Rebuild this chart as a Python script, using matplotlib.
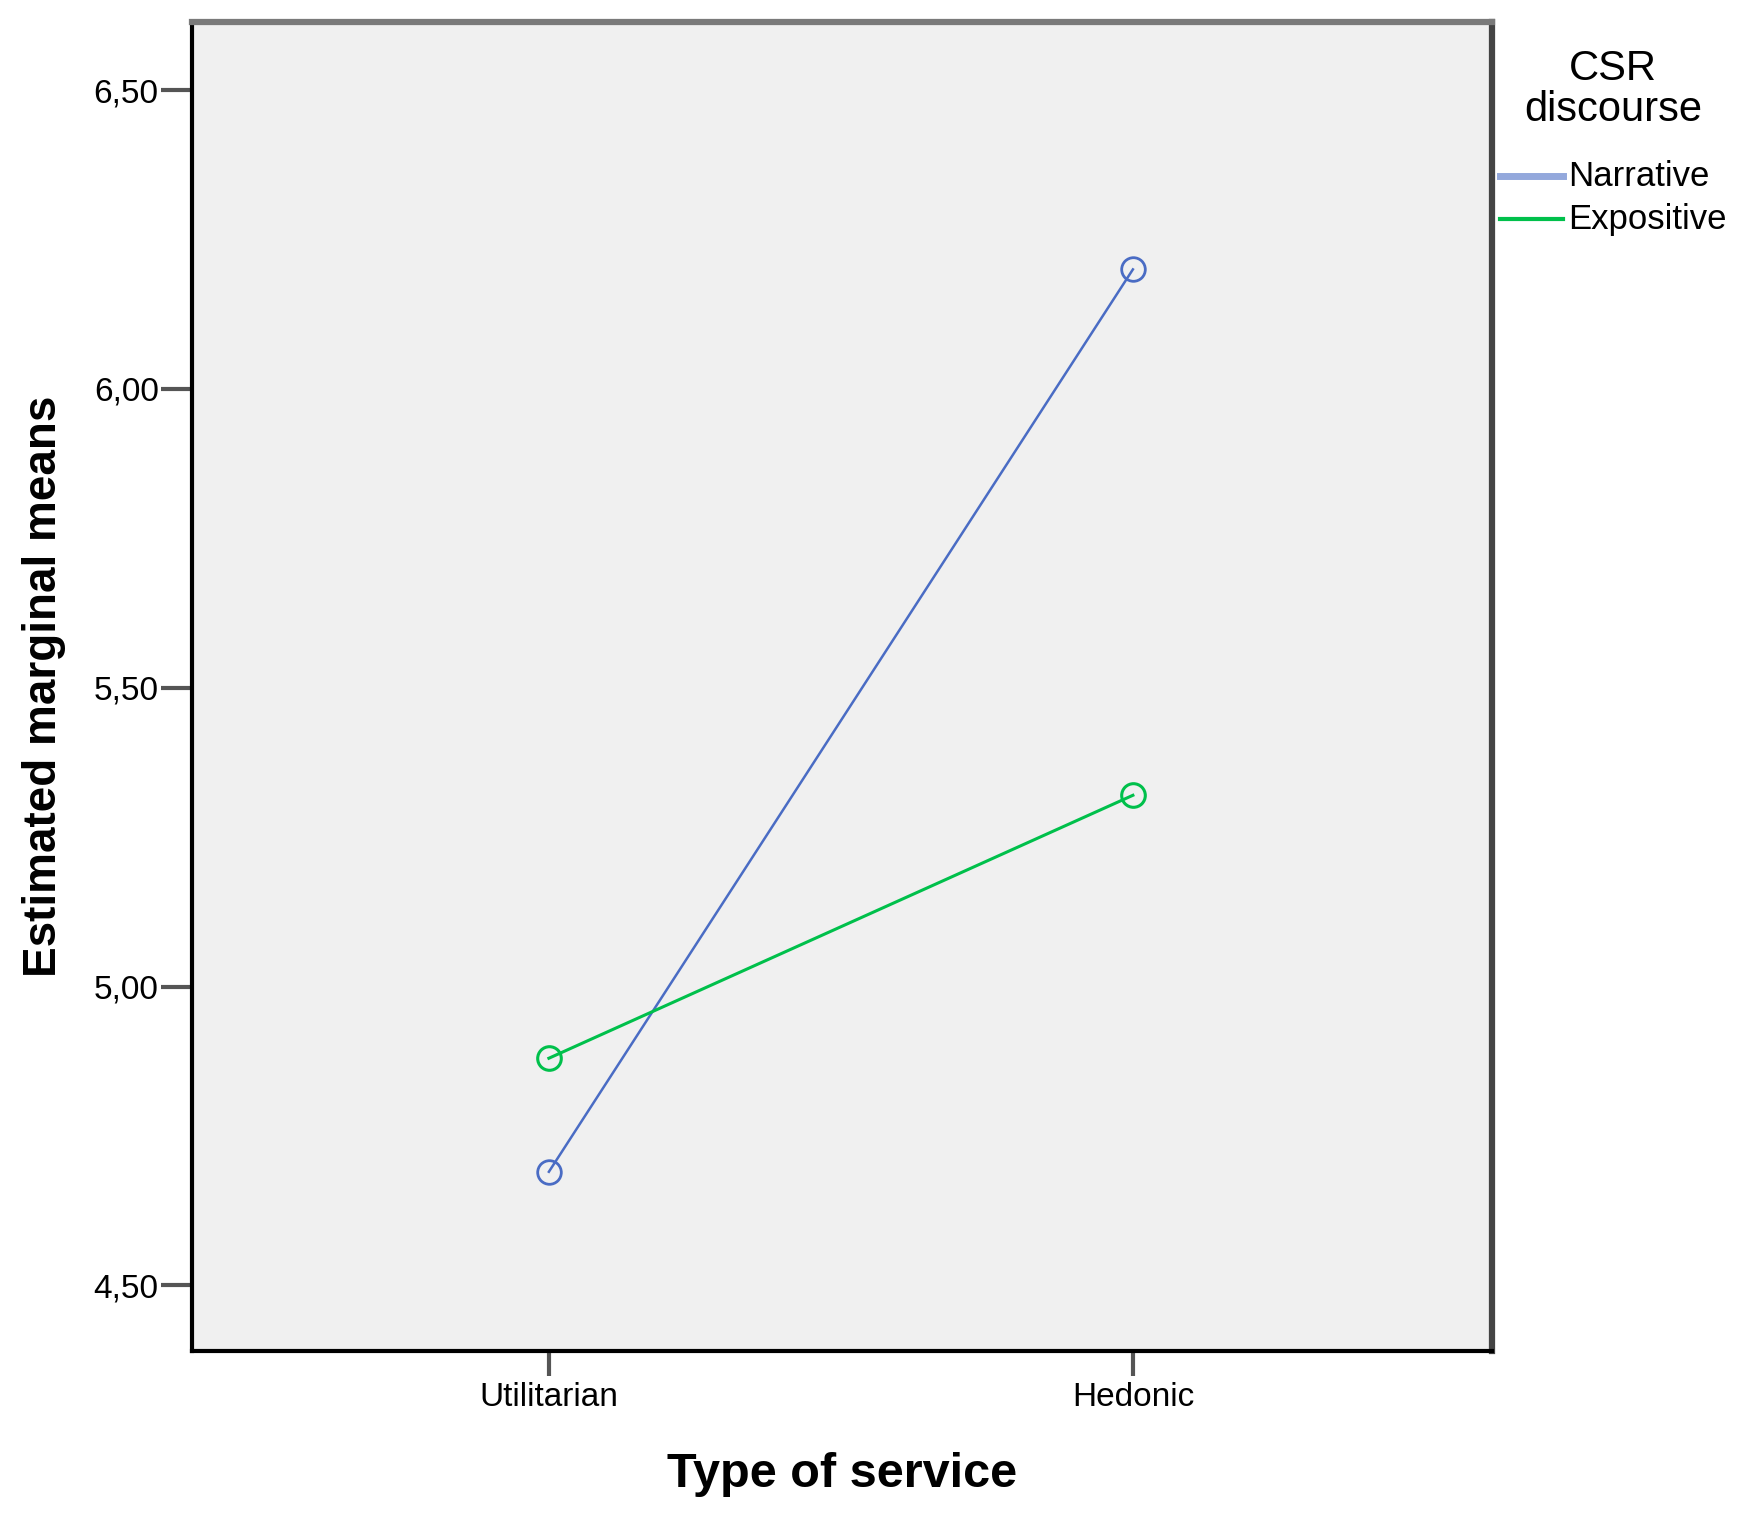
import matplotlib
matplotlib.use("Agg")
import matplotlib.pyplot as plt
from matplotlib.lines import Line2D
from matplotlib.ticker import FuncFormatter

plt.rcParams['font.family'] = ['Liberation Sans', 'DejaVu Sans']

# data
services = ["Utilitarian", "Hedonic"]
narrative = [4.69, 6.20]
expositive = [4.88, 5.32]
series_names = ["Narrative", "Expositive"]
yticks = [4.50, 5.00, 5.50, 6.00, 6.50]

blue = "#4a6cc4"
green = "#00c04b"
legend_colors = ["#93a8dc", green]
legend_widths = [5, 3]

W, H = 1749, 1516
fig = plt.figure(figsize=(W / 100, H / 100), dpi=100)
ax = fig.add_axes([0.1098, 0.1088, 0.7433, 0.8767])
ax.set_facecolor("#f0f0f0")

x = list(range(len(services)))
ax.plot(x, narrative, color=blue, lw=1.8, marker="o", ms=17, mfc="none", mew=2)
ax.plot(x, expositive, color=green, lw=2.2, marker="o", ms=17, mfc="none", mew=2.2)

ax.set_xlim(-0.611, 1.615)
ax.set_ylim(4.39, 6.614)
ax.set_xticks(x)
ax.set_xticklabels(services)
ax.set_yticks(yticks)
ax.yaxis.set_major_formatter(FuncFormatter(lambda v, p: f"{v:.2f}".replace(".", ",")))

ax.tick_params(axis="y", length=22, width=3, color="#555555", labelsize=24, pad=2)
ax.tick_params(axis="x", length=18, width=3, color="#555555", labelsize=24, pad=4)

for side in ["left", "bottom"]:
    ax.spines[side].set_linewidth(3)
    ax.spines[side].set_color("black")
ax.spines["top"].set_linewidth(4.5)
ax.spines["top"].set_color("#7a7a7a")
ax.spines["right"].set_linewidth(4.5)
ax.spines["right"].set_color("#444444")

ax.set_ylabel("Estimated marginal means", fontsize=33, fontweight="bold", labelpad=20)
ax.set_xlabel("Type of service", fontsize=35, fontweight="bold", labelpad=28)

# legend drawn by hand to the right of the plot
def fx(px):
    return px / W

def fy(py):
    return 1 - py / H

fig.text(fx(1613), fy(69), "CSR", fontsize=30, ha="center", va="center")
fig.text(fx(1613), fy(110), "discourse", fontsize=30, ha="center", va="center")
for i, name in enumerate(series_names):
    yy = 176 + i * 43
    fig.add_artist(Line2D([fx(1500), fx(1563)], [fy(yy), fy(yy)], transform=fig.transFigure,
                          color=legend_colors[i], lw=legend_widths[i]))
    fig.text(fx(1568), fy(yy), name, fontsize=25, ha="left", va="center")

fig.savefig("out.png", dpi=100)
